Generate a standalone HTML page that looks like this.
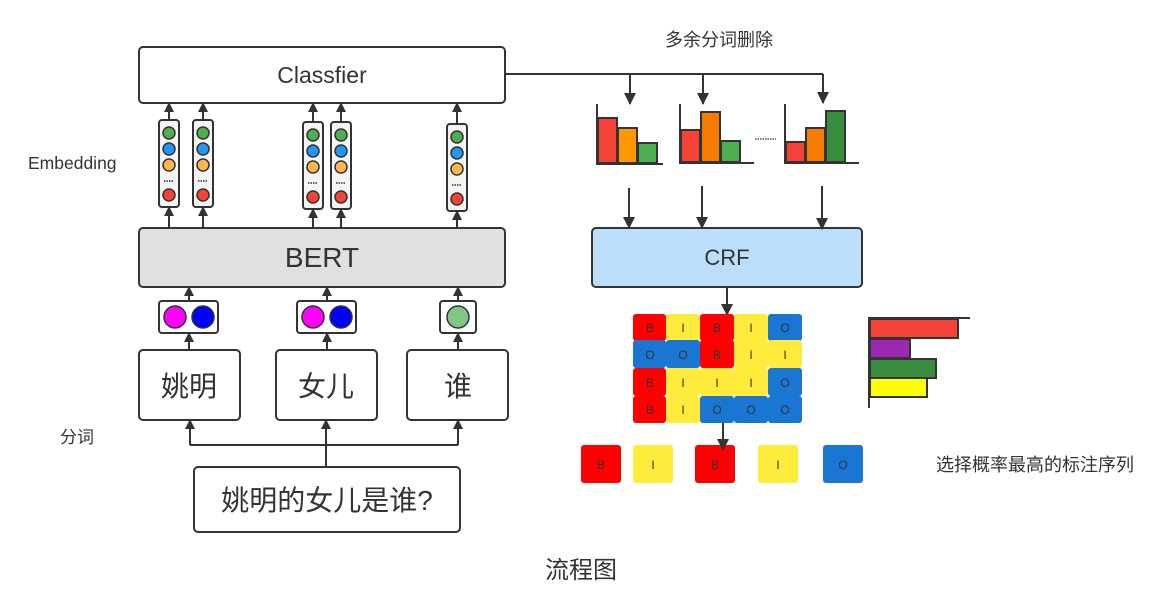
<!DOCTYPE html>
<html><head><meta charset="utf-8"><style>
html,body{margin:0;padding:0;background:#fff;}
svg{display:block;}
text{font-family:"Liberation Sans","Noto Sans CJK SC",sans-serif;fill:#333;}
</style></head><body>
<svg width="1167" height="598" viewBox="0 0 1167 598" xmlns="http://www.w3.org/2000/svg">
<defs>
<marker id="a" markerWidth="10" markerHeight="10" refX="9" refY="5" orient="auto" markerUnits="userSpaceOnUse">
<path d="M0,0 L10,5 L0,10 Z" fill="#333"/></marker>
<marker id="b" markerWidth="12" markerHeight="12" refX="11" refY="6" orient="auto" markerUnits="userSpaceOnUse">
<path d="M0,0 L12,6 L0,12 Z" fill="#333"/></marker>
</defs>
<g stroke="#333" stroke-width="2">
<rect x="139" y="47" width="366" height="56" rx="4" fill="#fff"/>
<rect x="139" y="228" width="366" height="59" rx="4" fill="#e0e0e0"/>
<rect x="592" y="228" width="270" height="59" rx="4" fill="#bbdefb"/>
<rect x="139" y="350" width="101" height="70" rx="4" fill="#fff"/>
<rect x="276" y="350" width="101" height="70" rx="4" fill="#fff"/>
<rect x="407" y="350" width="101" height="70" rx="4" fill="#fff"/>
<rect x="194" y="467" width="266" height="65" rx="4" fill="#fff"/>
<rect x="159" y="301" width="59" height="32" rx="3" fill="#fff"/>
<rect x="297" y="301" width="59" height="32" rx="3" fill="#fff"/>
<rect x="440" y="301" width="36" height="32" rx="3" fill="#fff"/>
</g>
<g stroke="#333" stroke-width="1.5">
<circle cx="175" cy="317" r="11" fill="#ff00ff"/><circle cx="203" cy="317" r="11" fill="#0000ff"/>
<circle cx="313" cy="317" r="11" fill="#ff00ff"/><circle cx="341" cy="317" r="11" fill="#0000ff"/>
<circle cx="458" cy="317" r="11" fill="#81c784"/>
</g>
<g id="col" stroke="#333">
<rect x="159" y="120" width="20" height="87" rx="3" fill="#f5f5f5" stroke-width="2"/>
<circle cx="169" cy="133" r="6" fill="#4caf50" stroke-width="1.5"/>
<circle cx="169" cy="149" r="6" fill="#2196f3" stroke-width="1.5"/>
<circle cx="169" cy="165" r="6" fill="#ffb74d" stroke-width="1.5"/>
<line x1="164" y1="181" x2="174" y2="181" stroke-dasharray="1.5,1" stroke-width="1.5"/>
<circle cx="169" cy="195" r="6" fill="#f44336" stroke-width="1.5"/>
</g>
<use href="#col" transform="translate(34,0)"/>
<use href="#col" transform="translate(144,2)"/>
<use href="#col" transform="translate(172,2)"/>
<use href="#col" transform="translate(288,4)"/>
<g stroke="#333" stroke-width="2" fill="none" marker-end="url(#a)">
<line x1="169" y1="120" x2="169" y2="103"/><line x1="203" y1="120" x2="203" y2="103"/>
<line x1="313" y1="122" x2="313" y2="103"/><line x1="341" y1="122" x2="341" y2="103"/>
<line x1="457" y1="124" x2="457" y2="103"/>
<line x1="169" y1="228" x2="169" y2="207"/><line x1="203" y1="228" x2="203" y2="207"/>
<line x1="313" y1="228" x2="313" y2="209"/><line x1="341" y1="228" x2="341" y2="209"/>
<line x1="457" y1="228" x2="457" y2="211"/>
<line x1="189" y1="301" x2="189" y2="287"/><line x1="327" y1="301" x2="327" y2="287"/><line x1="458" y1="301" x2="458" y2="287"/>
<line x1="189" y1="350" x2="189" y2="333"/><line x1="327" y1="350" x2="327" y2="333"/><line x1="458" y1="350" x2="458" y2="333"/>
<line x1="190" y1="445" x2="190" y2="420"/><line x1="326" y1="467" x2="326" y2="420"/><line x1="458" y1="445" x2="458" y2="420"/>
</g>
<line x1="190" y1="445" x2="458" y2="445" stroke="#333" stroke-width="2"/>
<polyline points="505,74 823,74" stroke="#333" stroke-width="2" fill="none"/>
<g stroke="#333" stroke-width="2" marker-end="url(#b)">
<line x1="630" y1="74" x2="630" y2="104"/><line x1="703" y1="74" x2="703" y2="104"/><line x1="823" y1="74" x2="823" y2="103"/>
<line x1="629" y1="188" x2="629" y2="228"/><line x1="702" y1="186" x2="702" y2="228"/><line x1="822" y1="186" x2="822" y2="229"/>
<line x1="727" y1="287" x2="727" y2="315"/>
</g>
<g stroke="#333" stroke-width="2">
<rect x="598" y="118" width="19" height="45" fill="#f44336"/><rect x="618" y="128" width="19" height="35" fill="#ff9800"/><rect x="638" y="143" width="19" height="20" fill="#4caf50"/>
<polyline points="597,104 597,164 663,164" fill="none"/>
<rect x="681" y="130" width="19" height="32" fill="#f44336"/><rect x="701" y="112" width="19" height="50" fill="#f57c00"/><rect x="721" y="141" width="19" height="21" fill="#4caf50"/>
<polyline points="680,104 680,163 754,163" fill="none"/>
<rect x="786" y="142" width="19" height="20" fill="#f44336"/><rect x="806" y="128" width="19" height="34" fill="#f57c00"/><rect x="826" y="111" width="19" height="51" fill="#388e3c"/>
<polyline points="785,104 785,163 859,163" fill="none"/>
</g>
<line x1="755" y1="139" x2="776" y2="139" stroke="#555" stroke-width="1.5" stroke-dasharray="1.5,1"/>
<g font-size="12" text-anchor="middle">
<rect x="633" y="314" width="33" height="27" rx="3" fill="#ff0000"/><rect x="666" y="314" width="34" height="27" rx="3" fill="#ffeb3b"/><rect x="700" y="314" width="34" height="27" rx="3" fill="#ff0000"/><rect x="734" y="314" width="34" height="27" rx="3" fill="#ffeb3b"/><rect x="768" y="314" width="34" height="27" rx="3" fill="#1976d2"/>
<rect x="633" y="340" width="33" height="28" rx="3" fill="#1976d2"/><rect x="666" y="340" width="34" height="28" rx="3" fill="#1976d2"/><rect x="700" y="340" width="34" height="28" rx="3" fill="#ff0000"/><rect x="734" y="340" width="34" height="28" rx="3" fill="#ffeb3b"/><rect x="768" y="340" width="34" height="28" rx="3" fill="#ffeb3b"/>
<rect x="633" y="368" width="33" height="28" rx="3" fill="#ff0000"/><rect x="666" y="368" width="34" height="28" rx="3" fill="#ffeb3b"/><rect x="700" y="368" width="34" height="28" rx="3" fill="#ffeb3b"/><rect x="734" y="368" width="34" height="28" rx="3" fill="#ffeb3b"/><rect x="768" y="368" width="34" height="28" rx="3" fill="#1976d2"/>
<rect x="633" y="396" width="33" height="27" rx="3" fill="#ff0000"/><rect x="666" y="396" width="34" height="27" rx="3" fill="#ffeb3b"/><rect x="700" y="396" width="34" height="27" rx="3" fill="#1976d2"/><rect x="734" y="396" width="34" height="27" rx="3" fill="#1976d2"/><rect x="768" y="396" width="34" height="27" rx="3" fill="#1976d2"/>
<text x="650" y="332">B</text><text x="683" y="332">I</text><text x="717" y="332">B</text><text x="751" y="332">I</text><text x="785" y="332">O</text>
<text x="650" y="359">O</text><text x="683" y="359">O</text><text x="717" y="359">B</text><text x="751" y="359">I</text><text x="785" y="359">I</text>
<text x="650" y="387">B</text><text x="683" y="387">I</text><text x="717" y="387">I</text><text x="751" y="387">I</text><text x="785" y="387">O</text>
<text x="650" y="414">B</text><text x="683" y="414">I</text><text x="717" y="414">O</text><text x="751" y="414">O</text><text x="785" y="414">O</text>
<rect x="581" y="445" width="40" height="38" rx="3" fill="#ff0000"/><rect x="633" y="445" width="40" height="38" rx="3" fill="#ffeb3b"/><rect x="695" y="445" width="40" height="38" rx="3" fill="#ff0000"/><rect x="758" y="445" width="40" height="38" rx="3" fill="#ffeb3b"/><rect x="823" y="445" width="40" height="38" rx="3" fill="#1976d2"/>
<text x="601" y="469">B</text><text x="653" y="469">I</text><text x="715" y="469">B</text><text x="778" y="469">I</text><text x="843" y="469">O</text>
</g>
<line x1="723" y1="423" x2="723" y2="450" stroke="#333" stroke-width="2" marker-end="url(#b)"/>
<g stroke="#333" stroke-width="2">
<rect x="870" y="319" width="88" height="19" fill="#f44336"/>
<rect x="870" y="339" width="40" height="19" fill="#9c27b0"/>
<rect x="870" y="359" width="66" height="19" fill="#388e3c"/>
<rect x="870" y="378" width="57" height="19" fill="#ffff00"/>
<polyline points="970,318 869,318 869,408" fill="none"/>
</g>
<text x="322" y="83" font-size="23" text-anchor="middle">Classfier</text>
<text x="322" y="267" font-size="28" text-anchor="middle">BERT</text>
<text x="727" y="265" font-size="22" text-anchor="middle">CRF</text>
<text x="189" y="396" font-size="28" text-anchor="middle">姚明</text>
<text x="326" y="396" font-size="28" text-anchor="middle">女儿</text>
<text x="458" y="396" font-size="28" text-anchor="middle">谁</text>
<text x="327" y="510" font-size="28" text-anchor="middle">姚明的女儿是谁?</text>
<text x="28" y="169" font-size="17.5">Embedding</text>
<text x="60" y="443" font-size="17">分词</text>
<text x="665" y="46" font-size="18">多余分词删除</text>
<text x="936" y="471" font-size="18">选择概率最高的标注序列</text>
<text x="581" y="578" font-size="24" text-anchor="middle">流程图</text>
</svg>
</body></html>
